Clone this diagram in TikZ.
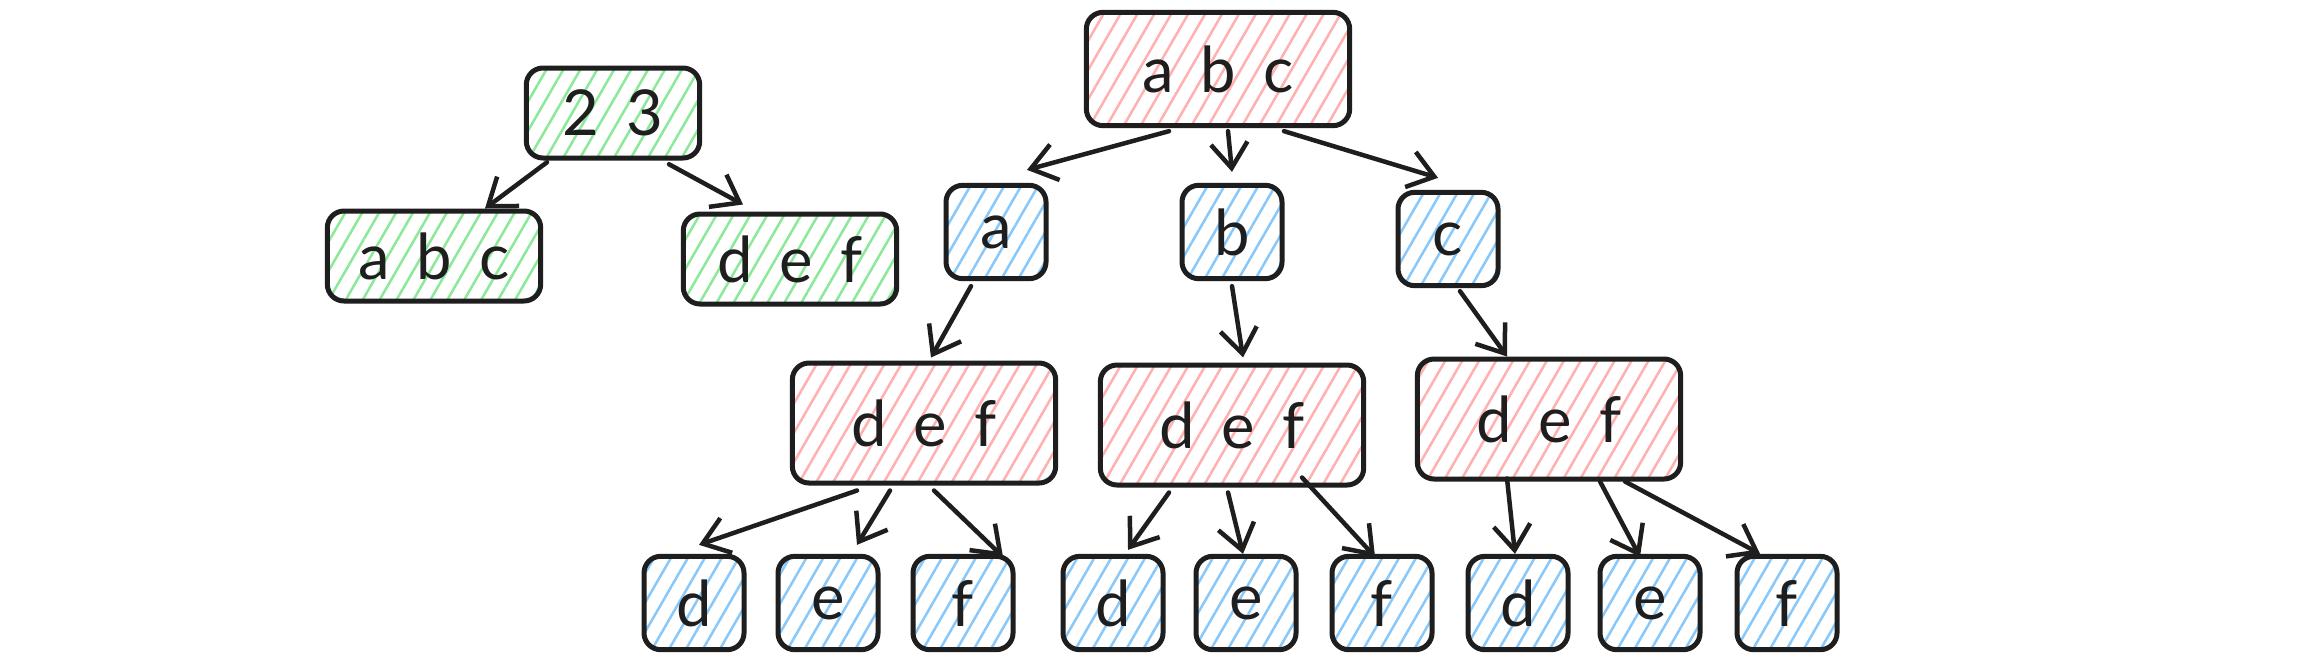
\documentclass[tikz,border=0pt]{standalone}
\usepackage{fontspec}
\setmainfont{Lato}
\usetikzlibrary{patterns.meta,arrows.meta}
\definecolor{ink}{HTML}{1E1E1E}
\definecolor{hgreen}{HTML}{8CE99A}
\definecolor{hred}{HTML}{FFB0B0}
\definecolor{hblue}{HTML}{88C8FA}
\newcommand{\gp}{\hspace{8pt}}
\tikzset{
  box/.style={draw=ink, line width=1.5pt, rounded corners=5pt, inner sep=0pt,
    font=\fontsize{19}{22}\selectfont, text=ink,
    pattern={Lines[angle=60,distance=4.4pt,line width=0.75pt]}},
  gbox/.style={box, pattern color=hgreen, minimum width=52pt, minimum height=27pt},
  rbox/.style={box, pattern color=hred, minimum width=79pt, minimum height=36pt},
  bbox/.style={box, pattern color=hblue, minimum width=30pt, minimum height=28pt},
  arr/.style={draw=ink, line width=1.35pt, line cap=round, line join=round,
    -{Straight Barb[length=7.5pt,width=11pt,line width=1.35pt]}}
}
\begin{document}
\begin{tikzpicture}[x=0.3pt,y=-0.3pt]
\useasboundingbox (0,0) rectangle (2306,664);
\fill[white] (0,0) rectangle (2306,664);
% green tree
\node[gbox, minimum width=52pt] (g23) at (613,113) {2\gp 3};
\node[gbox, minimum width=64pt] (gabc) at (434,256) {a\gp b\gp c};
\node[gbox, minimum width=64pt] (gdef) at (790,259) {d\gp e\gp f};
% red / blue tree
\node[rbox, minimum height=34pt] (top) at (1218,69) {a\gp b\gp c};
\node[bbox] (a) at (996,232) {a};
\node[bbox] (b) at (1232,232) {b};
\node[bbox] (c) at (1448,239) {c};
\node[rbox] (def1) at (924,423) {d\gp e\gp f};
\node[rbox] (def2) at (1232,425) {d\gp e\gp f};
\node[rbox] (def3) at (1549,419) {d\gp e\gp f};
\node[bbox] (d1) at (694,603) {d};
\node[bbox] (e1) at (828,603) {e};
\node[bbox] (f1) at (963,603) {f};
\node[bbox] (d2) at (1113,603) {d};
\node[bbox] (e2) at (1246,603) {e};
\node[bbox] (f2) at (1382,603) {f};
\node[bbox] (d3) at (1518,603) {d};
\node[bbox] (e3) at (1650,603) {e};
\node[bbox] (f3) at (1787,603) {f};
% connectors
\draw[arr] ([shift={(-66,3)}]g23.south) -- ([shift={(51,0)}]gabc.north);
\draw[arr] ([shift={(56,5)}]g23.south) -- ([shift={(-47,-7)}]gdef.north);
\draw[arr] ([shift={(-49,3)}]top.south) -- ([shift={(31,-13)}]a.north);
\draw[arr] ([shift={(10,3)}]top.south) -- ([shift={(0,-11)}]b.north);
\draw[arr] ([shift={(66,3)}]top.south) -- ([shift={(-10,-12)}]c.north);
\draw[arr] ([shift={(-25,5)}]a.south) -- ([shift={(7,-3)}]def1.north);
\draw[arr] ([shift={(0,5)}]b.south) -- ([shift={(11,-5)}]def2.north);
\draw[arr] ([shift={(12,3)}]c.south) -- ([shift={(-42,0)}]def3.north);
\draw[arr] ([shift={(-67,5)}]def1.south) -- ([shift={(5,-9)}]d1.north);
\draw[arr] ([shift={(-34,5)}]def1.south) -- ([shift={(29,-9)}]e1.north);
\draw[arr] ([shift={(10,5)}]def1.south) -- ([shift={(40,3)}]f1.north);
\draw[arr] ([shift={(-63,5)}]def2.south) -- ([shift={(15,-4)}]d2.north);
\draw[arr] ([shift={(-4,5)}]def2.south) -- ([shift={(-3,0)}]e2.north);
\draw[arr] ([shift={(70,-10)}]def2.south) -- ([shift={(-7,3)}]f2.north);
\draw[arr] ([shift={(-42,-3)}]def3.south) -- ([shift={(-3,0)}]d3.north);
\draw[arr] ([shift={(51,0)}]def3.south) -- ([shift={(-10,3)}]e3.north);
\draw[arr] ([shift={(76,0)}]def3.south) -- ([shift={(-27,0)}]f3.north);
\end{tikzpicture}
\end{document}
